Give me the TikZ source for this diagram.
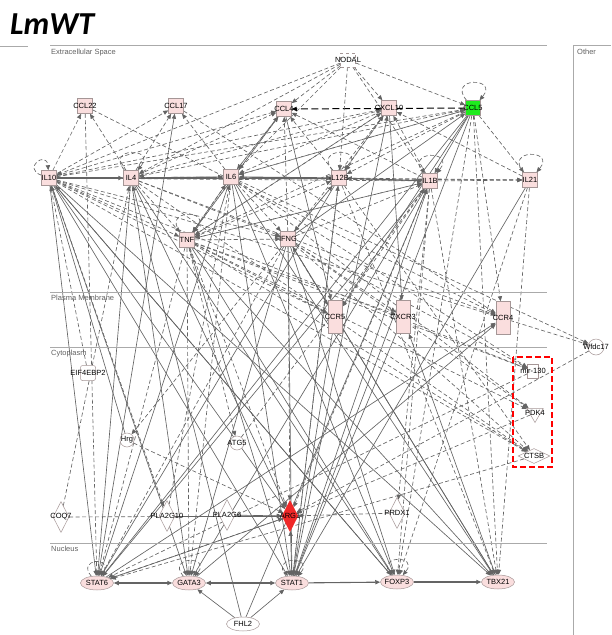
\documentclass[tikz,border=0pt]{standalone}
\usepackage{fontspec}
\newfontfamily\ipafont{Liberation Sans}
\newfontfamily\titlefont{Carlito}
\usetikzlibrary{shapes.geometric,arrows.meta,backgrounds}

\definecolor{edgegray}{RGB}{100,100,100}
\definecolor{compgray}{RGB}{170,170,170}
\definecolor{nodeline}{RGB}{165,150,150}
\definecolor{nodepink}{RGB}{250,222,222}
\definecolor{upgreen}{RGB}{30,235,30}
\definecolor{downred}{RGB}{240,40,40}

\begin{document}
\begin{tikzpicture}[x=1pt,y=-1pt,
    every label/.style={font=\ipafont\fontsize{7.5}{8}\selectfont, inner sep=0pt, text=black},
    mol/.style={draw=nodeline, line width=0.5pt, inner sep=0pt},
    cyto/.style={mol, rectangle, fill=nodepink, minimum width=15pt, minimum height=15pt},
    recep/.style={mol, rectangle, fill=nodepink, minimum width=14pt, minimum height=33pt},
    tfac/.style={mol, ellipse, fill=nodepink, minimum width=33pt, minimum height=14pt},
    enzyme/.style={mol, diamond, fill=white, minimum width=16pt, minimum height=31pt},
    othermol/.style={mol, circle, fill=white, minimum size=14pt},
    comp/.style={font=\ipafont\fontsize{7.5}{8}\selectfont, text=black!62, anchor=north west, inner sep=0pt},
    rel/.style={draw=edgegray, line width=0.65pt, -{Triangle[length=5pt,width=4.2pt]}},
    ind/.style={rel, dash pattern=on 4pt off 2.5pt},
    both/.style={rel, {Triangle[length=5pt,width=4.2pt]}-{Triangle[length=5pt,width=4.2pt]}, line width=1.1pt},
    selfloop/.style={ind, loop, out=130, in=50, min distance=15pt, looseness=6}
  ]
    \useasboundingbox (0,0) rectangle (611,635);

    \node[font=\titlefont\bfseries\itshape\fontsize{32}{34}\selectfont, anchor=west, inner sep=0pt] (title) at (10,24) {LmWT};

    \draw[compgray, line width=0.8pt] (0,46) -- (28,46);
    \draw[compgray, line width=0.8pt] (50,45) -- (547,45);
    \draw[compgray, line width=0.8pt] (573,45) -- (611,45);
    \draw[compgray, line width=0.8pt] (573,45) -- (573,635);
    \draw[compgray, line width=0.6pt] (50,292) -- (547,292);
    \draw[compgray, line width=0.6pt] (50,347) -- (547,347);
    \draw[compgray, line width=0.6pt] (50,543) -- (547,543);
    \node[comp] (extra) at (51,49) {Extracellular Space};
    \node[comp] (membr) at (51,295) {Plasma Membrane};
    \node[comp] (cytop) at (51,350) {Cytoplasm};
    \node[comp] (nucl) at (51,546) {Nucleus};
    \node[comp] (other) at (577,49) {Other};

    \node[mol, rectangle, dashed, fill=white, minimum width=15pt, minimum height=14pt, label=center:NODAL] (NODAL) at (348,60) {};
    \node[cyto, label=center:CCL22] (CCL22) at (85,106) {};
    \node[cyto, label=center:CCL17] (CCL17) at (176,106) {};
    \node[cyto, label=center:CCL4] (CCL4) at (284,109) {};
    \node[cyto, label=center:CXCL10] (CXCL10) at (389,108) {};
    \node[cyto, fill=upgreen, label=center:CCL5] (CCL5) at (473,108) {};
    \node[cyto, label=center:IL10] (IL10) at (49,178) {};
    \node[cyto, label=center:IL4] (IL4) at (131,178) {};
    \node[cyto, label=center:IL6] (IL6) at (231,177) {};
    \node[cyto, label=center:IL12B] (IL12B) at (339,178) {};
    \node[cyto, label=center:IL1B] (IL1B) at (430,181) {};
    \node[cyto, label=center:IL21] (IL21) at (530,180) {};
    \node[cyto, label=center:TNF] (TNF) at (187,240) {};
    \node[cyto, label=center:IFNG] (IFNG) at (288,239) {};

    \node[recep, label=center:CCR5] (CCR5) at (335,317) {};
    \node[recep, label=center:CXCR3] (CXCR3) at (403,317) {};
    \node[recep, label=center:CCR4] (CCR4) at (503,318) {};

    \node[othermol, minimum size=16pt, label=center:Wfdc17] (Wfdc17) at (596,347) {};
    \node[mol, rectangle, fill=white, minimum width=11pt, minimum height=14pt, label=center:mir-130] (mir130) at (533,371) {};
    \node[mol, regular polygon, regular polygon sides=3, shape border rotate=180, fill=white, minimum size=19pt, label=center:PDK4] (PDK4) at (535,413) {};
    \node[mol, diamond, fill=white, minimum width=32pt, minimum height=15pt, label=center:CTSB] (CTSB) at (534,456) {};
    \node[mol, rectangle, rounded corners=2pt, fill=white, minimum size=15pt, label=center:EIF4EBP2] (EIF4EBP2) at (88,373) {};
    \node[othermol, label=center:Hrg] (Hrg) at (127,440) {};
    \node[othermol, label=center:ATG5] (ATG5) at (237,443) {};

    \node[enzyme, label=center:COQ7] (COQ7) at (61,517) {};
    \node[enzyme, label=center:PLA2G10] (PLA2G10) at (167,516) {};
    \node[enzyme, label=center:PLA2G6] (PLA2G6) at (227,515) {};
    \node[enzyme, fill=downred, draw=downred, label=center:ARG1] (ARG1) at (290,516) {};
    \node[enzyme, label=center:PRDX1] (PRDX1) at (397,513) {};

    \node[tfac, label=center:STAT6] (STAT6) at (97,583) {};
    \node[tfac, label=center:GATA3] (GATA3) at (189,583) {};
    \node[tfac, label=center:STAT1] (STAT1) at (292,583) {};
    \node[tfac, label=center:FOXP3] (FOXP3) at (397,582) {};
    \node[tfac, label=center:TBX21] (TBX21) at (498,582) {};
    \node[tfac, fill=white, label=center:FHL2] (FHL2) at (243,624) {};

    \draw[red, line width=2.2pt, dash pattern=on 6pt off 3pt] (513,357) rectangle (552,467);

    \begin{pgfonlayer}{background}
    \draw
        (IL10) edge[selfloop, out=160, in=95] (IL10)
        (IL4) edge[selfloop] (IL4)
        (IL12B) edge[selfloop] (IL12B)
        (IL1B) edge[selfloop] (IL1B)
        (IL21) edge[selfloop] (IL21)
        (CCL5) edge[selfloop] (CCL5)
        (TNF) edge[selfloop] (TNF)
        (STAT6) edge[selfloop, rel, out=130, in=60] (STAT6)
        (GATA3) edge[selfloop, rel] (GATA3)
        (STAT1) edge[selfloop, rel] (STAT1)
        (FOXP3) edge[selfloop, rel] (FOXP3)

        (IL10) edge[rel, line width=1.2pt] (IL4)
        (IL10) edge[ind] (CCL22)
        (IL10) edge[ind] (CCL17)
        (IL10) edge[ind] (CCL4)
        (IL10) edge[ind] (CXCL10)
        (IL10) edge[ind] (CCL5)
        (IL10) edge[ind] (TNF)
        (IL10) edge[ind] (IFNG)
        (IL10) edge[ind] (IL6)
        (IL10) edge[ind] (IL12B)
        (IL10) edge[ind] (IL1B)
        (IL10) edge[ind] (CCR5)
        (IL10) edge[ind] (mir130)
        (IL10) edge[ind] (CTSB)
        (IL10) edge[ind] (Wfdc17)
        (IL10) edge[rel] (STAT6)
        (IL10) edge[rel] (GATA3)
        (IL10) edge[rel] (STAT1)
        (IL10) edge[rel] (FOXP3)
        (IL10) edge[rel] (TBX21)
        (IL10) edge[rel] (ARG1)
        (IL10) edge[ind] (PLA2G10)

        (IL4) edge[rel, line width=1.2pt] (IL6)
        (IL4) edge[ind] (CCL22)
        (IL4) edge[ind] (CCL17)
        (IL4) edge[ind] (CCL4)
        (IL4) edge[ind] (CXCL10)
        (IL4) edge[ind] (TNF)
        (IL4) edge[ind] (IL12B)
        (IL4) edge[ind] (IFNG)
        (IL4) edge[ind] (IL21)
        (IL4) edge[ind] (CCR4)
        (IL4) edge[ind] (CTSB)
        (IL4) edge[rel] (STAT6)
        (IL4) edge[rel] (GATA3)
        (IL4) edge[rel] (ARG1)
        (IL4) edge[rel] (FOXP3)

        (IL6) edge[both] (IL12B)
        (IL6) edge[ind] (CCL17)
        (IL6) edge[ind] (CCL4)
        (IL6) edge[ind] (CCL5)
        (IL6) edge[ind] (TNF)
        (IL6) edge[ind] (IFNG)
        (IL6) edge[ind] (PDK4)
        (IL6) edge[ind] (mir130)
        (IL6) edge[ind] (Wfdc17)
        (IL6) edge[ind] (GATA3)
        (IL6) edge[rel] (STAT1)
        (IL6) edge[rel] (STAT6)
        (IL6) edge[rel] (FOXP3)
        (IL6) edge[rel] (TBX21)

        (IL12B) edge[both] (IL1B)
        (IL12B) edge[ind] (CCL4)
        (IL12B) edge[ind] (CXCL10)
        (IL12B) edge[ind] (IFNG)
        (IL12B) edge[ind] (IL21)
        (IL12B) edge[ind] (CTSB)
        (IL12B) edge[ind] (STAT1)
        (IL12B) edge[ind] (TBX21)
        (IL12B) edge[rel] (STAT6)

        (IL1B) edge[ind] (IL21)
        (IL1B) edge[ind] (CXCL10)
        (IL1B) edge[ind] (CCL4)
        (IL1B) edge[ind] (TNF)
        (IL1B) edge[ind] (IL6)
        (IL1B) edge[ind] (CCR5)
        (IL1B) edge[ind] (ARG1)
        (IL1B) edge[ind] (FOXP3)
        (IL1B) edge[ind] (TBX21)
        (IL1B) edge[ind] (PRDX1)
        (IL1B) edge[rel] (STAT6)
        (IL1B) edge[rel] (GATA3)

        (IL21) edge[ind] (CXCL10)
        (IL21) edge[ind] (TBX21)
        (IL21) edge[ind] (FOXP3)
        (IL21) edge[rel] (STAT1)

        (CCL5) edge[ind, draw=black, line width=1pt, dash pattern=on 7pt off 3.5pt] (CCL4)
        (CCL5) edge[rel] (CCR5)
        (CCL5) edge[rel] (IL1B)
        (CCL5) edge[rel] (STAT1)
        (CCL5) edge[rel] (STAT6)
        (CCL5) edge[ind] (CCR4)
        (CCL5) edge[ind] (TNF)
        (CCL5) edge[ind] (IL12B)
        (CCL5) edge[ind] (IL21)
        (CCL5) edge[ind] (TBX21)
        (CCL5) edge[ind] (FOXP3)
        (CCL5) edge[ind] (IL6)
        (CCL5) edge[ind] (IL4)

        (CXCL10) edge[rel] (CXCR3)
        (CXCL10) edge[ind] (IL12B)
        (CXCL10) edge[ind] (IL6)
        (CXCL10) edge[ind] (TNF)
        (STAT1) edge[rel] (CXCL10)

        (CCL4) edge[rel] (CCR5)
        (CCL4) edge[ind] (IL6)
        (CCL4) edge[ind] (TNF)
        (CCL22) edge[ind] (CCR4)
        (CCL22) edge[ind] (STAT6)
        (CCL17) edge[ind] (CCR4)
        (STAT6) edge[rel] (CCL17)

        (NODAL) edge[ind] (CCL4)
        (NODAL) edge[ind] (CXCL10)
        (NODAL) edge[ind] (CCL5)
        (NODAL) edge[ind] (IL12B)
        (NODAL) edge[ind] (IL6)
        (NODAL) edge[ind] (IL10)
        (NODAL) edge[ind] (IL1B)
        (NODAL) edge[ind] (IL4)

        (TNF) edge[ind] (IFNG)
        (TNF) edge[ind] (CCR5)
        (TNF) edge[ind] (CXCR3)
        (TNF) edge[ind] (CCL4)
        (TNF) edge[ind] (CXCL10)
        (TNF) edge[ind] (IL1B)
        (TNF) edge[ind] (IL12B)
        (TNF) edge[ind] (IL6)
        (TNF) edge[ind] (STAT6)
        (TNF) edge[ind] (GATA3)
        (TNF) edge[ind] (ARG1)
        (TNF) edge[ind] (CTSB)
        (TNF) edge[ind] (PDK4)
        (TNF) edge[ind] (mir130)
        (TNF) edge[ind] (ATG5)
        (TNF) edge[rel] (STAT1)
        (TNF) edge[rel] (FOXP3)
        (TNF) edge[rel] (TBX21)

        (IFNG) edge[rel] (CCL5)
        (IFNG) edge[ind] (CXCL10)
        (IFNG) edge[ind] (CCL4)
        (IFNG) edge[ind] (IL12B)
        (IFNG) edge[ind] (IL1B)
        (IFNG) edge[ind] (CXCR3)
        (IFNG) edge[ind] (CCR5)
        (IFNG) edge[ind] (CTSB)
        (IFNG) edge[ind] (mir130)
        (IFNG) edge[ind] (PDK4)
        (IFNG) edge[ind] (Hrg)
        (IFNG) edge[ind] (STAT6)
        (IFNG) edge[ind] (ARG1)
        (IFNG) edge[rel] (STAT1)
        (IFNG) edge[rel] (TBX21)
        (IFNG) edge[rel] (GATA3)
        (IFNG) edge[rel] (FOXP3)

        (STAT6) edge[both] (GATA3)
        (GATA3) edge[both] (STAT1)
        (STAT1) edge[rel, line width=1.1pt] (FOXP3)
        (FOXP3) edge[rel, line width=1.1pt] (TBX21)
        (STAT6) edge[rel] (ARG1)
        (ARG1) edge[ind] (STAT6)
        (STAT1) edge[rel] (ARG1)
        (TBX21) edge[rel] (CXCR3)
        (STAT6) edge[rel] (CCR4)
        (GATA3) edge[rel] (CCR4)
        (STAT1) edge[rel] (IL1B)
        (STAT1) edge[rel] (IL12B)
        (FOXP3) edge[rel] (IL10)
        (TBX21) edge[rel] (IFNG)

        (COQ7) edge[ind] (ARG1)
        (COQ7) edge[ind] (IL4)
        (PLA2G10) edge[rel] (ARG1)
        (PLA2G10) edge[ind] (IL6)
        (PLA2G6) edge[rel] (ARG1)
        (PRDX1) edge[ind] (ARG1)
        (Hrg) edge[ind] (ARG1)
        (Hrg) edge[rel] (IL10)
        (ATG5) edge[ind] (IL1B)
        (EIF4EBP2) edge[ind] (IL10)
        (Wfdc17) edge[ind] (ARG1)
        (CTSB) edge[ind] (STAT6)
        (mir130) edge[ind] (STAT6)
        (PDK4) edge[ind] (ARG1)
        (FHL2) edge[rel] (GATA3)
        (FHL2) edge[rel] (STAT1)
        (FHL2) edge[rel] (IL4)
        (FHL2) edge[rel] (IL1B)
        (CCR5) edge[rel] (STAT1)
        (CXCR3) edge[rel] (STAT1)
        ;
    \end{pgfonlayer}
\end{tikzpicture}
\end{document}
